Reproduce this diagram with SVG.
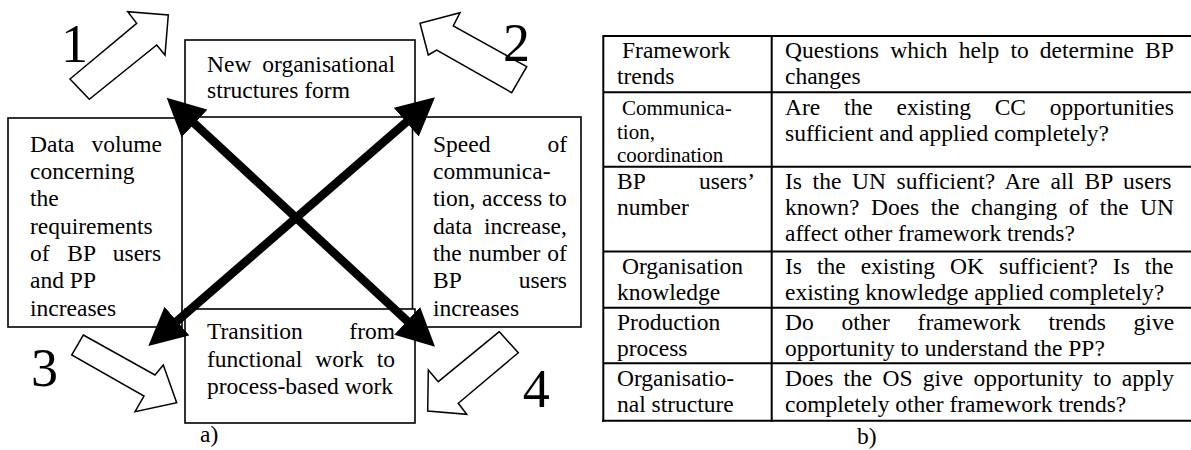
<svg xmlns="http://www.w3.org/2000/svg" width="1191" height="450" viewBox="0 0 1191 450" font-family="'Liberation Serif', 'DejaVu Serif', serif">
<defs>
<style>
text{font-family:'Liberation Serif','DejaVu Serif',serif;fill:#000}
.t{font-size:23.5px}
.s{font-size:21px}
.n{font-size:54px}
.e{text-anchor:end}
.box{fill:#fff;stroke:#000;stroke-width:1.6}
.hol{fill:#fff;stroke:#000;stroke-width:1.5;stroke-linejoin:miter}
.big{fill:none;stroke:#000;stroke-width:8.5}
.tl{stroke:#000;stroke-width:2;fill:none}
</style>
<marker id="ah" markerUnits="userSpaceOnUse" markerWidth="38" markerHeight="38" viewBox="0 0 38 38" refX="22" refY="19" orient="auto-start-reverse"><path d="M0,0 L38,19 L0,38 Z" fill="#000"/></marker>
</defs>
<rect width="1191" height="450" fill="#fff"/>

<g id="node-top">
<rect class="box" x="185" y="40" width="230" height="77"/>
<text class="t" x="207" y="72">New</text><text class="t e" x="395" y="72">organisational</text>
<text class="t" x="207" y="98">structures form</text>
</g>

<g id="node-left">
<rect class="box" x="8" y="118" width="174" height="209"/>
<text class="t" x="30" y="152">Data</text><text class="t e" x="162" y="152">volume</text>
<text class="t" x="30" y="179">concerning</text>
<text class="t" x="30" y="206">the</text>
<text class="t" x="30" y="233.5">requirements</text>
<text class="t" x="30" y="261" style="word-spacing:11.8px">of BP users</text>
<text class="t" x="30" y="288">and PP</text>
<text class="t" x="30" y="315.5">increases</text>
</g>

<g id="node-right">
<rect class="box" x="412.5" y="117" width="168.5" height="210"/>
<text class="t" x="433" y="152">Speed</text><text class="t e" x="567" y="152">of</text>
<text class="t" x="433" y="179">communica-</text>
<text class="t" x="433" y="206" style="word-spacing:0.7px">tion, access to</text>
<text class="t" x="433" y="233.5" style="word-spacing:6px">data increase,</text>
<text class="t" x="433" y="261" style="word-spacing:1px">the number of</text>
<text class="t" x="433" y="288">BP</text><text class="t e" x="567" y="288">users</text>
<text class="t" x="433" y="315.5">increases</text>
</g>

<g id="node-bottom">
<rect class="box" x="185" y="309" width="230" height="114"/>
<text class="t" x="207" y="339">Transition</text><text class="t e" x="395" y="339">from</text>
<text class="t" x="207" y="366.5" style="word-spacing:7.2px">functional work to</text>
<text class="t" x="207" y="394">process-based work</text>
</g>

<g id="connectors">
<line class="big" x1="178.4" y1="108.6" x2="423.3" y2="335.8" marker-start="url(#ah)" marker-end="url(#ah)"/>
<line class="big" x1="160.4" y1="335.5" x2="422.9" y2="107.8" marker-start="url(#ah)" marker-end="url(#ah)"/>
</g>

<g id="arrow-1">
<polygon class="hol" points="70,79 136.7,23.3 127.7,11.7 168.3,15 165,55 156.7,45 89.3,99.3"/>
<text class="n" x="61" y="61.5">1</text>
</g>
<g id="arrow-2">
<polygon class="hol" points="526.7,66.7 453.3,26 460,12.7 420,23.3 428.3,55 436.7,50 511.7,92.7"/>
<text class="n" x="503" y="61">2</text>
</g>
<g id="arrow-3">
<polygon class="hol" points="83.3,335 155,375 163.3,365 176.7,402.7 135,411.7 144,396 71.7,355"/>
<text class="n" x="31" y="386">3</text>
</g>
<g id="arrow-4">
<polygon class="hol" points="499.3,331.7 438.3,381.7 428.3,370 427.7,411 466.7,414.3 458.3,403.3 518.3,352.7"/>
<text class="n" x="522.7" y="406.7">4</text>
</g>

<text id="label-a" class="t" x="200" y="442">a)</text>

<g id="table">
<line class="tl" x1="603" y1="36" x2="1191" y2="36"/>
<line class="tl" x1="603" y1="92.3" x2="1191" y2="92.3"/>
<line class="tl" x1="603" y1="166.7" x2="1191" y2="166.7"/>
<line class="tl" x1="603" y1="251.5" x2="1191" y2="251.5"/>
<line class="tl" x1="603" y1="307.7" x2="1191" y2="307.7"/>
<line class="tl" x1="603" y1="363.3" x2="1191" y2="363.3"/>
<line class="tl" x1="602" y1="420.7" x2="1191" y2="420.7"/>
<line class="tl" x1="603.3" y1="35" x2="603.3" y2="421.7"/>
<line class="tl" x1="771.7" y1="35" x2="771.7" y2="421.7"/>

<text class="t" x="622" y="58">Framework</text>
<text class="t" x="617" y="84">trends</text>
<text class="t" x="785" y="58" style="word-spacing:5.3px">Questions which help to determine BP</text>
<text class="t" x="785" y="84">changes</text>

<text class="s" x="622" y="115">Communica-</text>
<text class="s" x="617" y="138.5">tion,</text>
<text class="s" x="617" y="162">coordination</text>
<text class="t" x="785" y="115" style="word-spacing:17.9px">Are the existing CC opportunities</text>
<text class="t" x="785" y="141">sufficient and applied completely?</text>

<text class="t" x="617" y="189">BP</text><text class="t e" x="755" y="189">users’</text>
<text class="t" x="617" y="215">number</text>
<text class="t" x="785" y="189" style="word-spacing:4.76px">Is the UN sufficient? Are all BP users</text>
<text class="t" x="785" y="215" style="word-spacing:5.67px">known? Does the changing of the UN</text>
<text class="t" x="785" y="241">affect other framework trends?</text>

<text class="t" x="622" y="274">Organisation</text>
<text class="t" x="617" y="300">knowledge</text>
<text class="t" x="785" y="274" style="word-spacing:9.13px">Is the existing OK sufficient? Is the</text>
<text class="t" x="785" y="300">existing knowledge applied completely?</text>

<text class="t" x="617" y="330">Production</text>
<text class="t" x="617" y="356">process</text>
<text class="t" x="785" y="330" style="word-spacing:21.9px">Do other framework trends give</text>
<text class="t" x="785" y="356">opportunity to understand the PP?</text>

<text class="t" x="617" y="386">Organisatio-</text>
<text class="t" x="617" y="412">nal structure</text>
<text class="t" x="785" y="386" style="word-spacing:4.35px">Does the OS give opportunity to apply</text>
<text class="t" x="785" y="412">completely other framework trends?</text>
</g>

<text id="label-b" class="t" x="857" y="444">b)</text>
</svg>
